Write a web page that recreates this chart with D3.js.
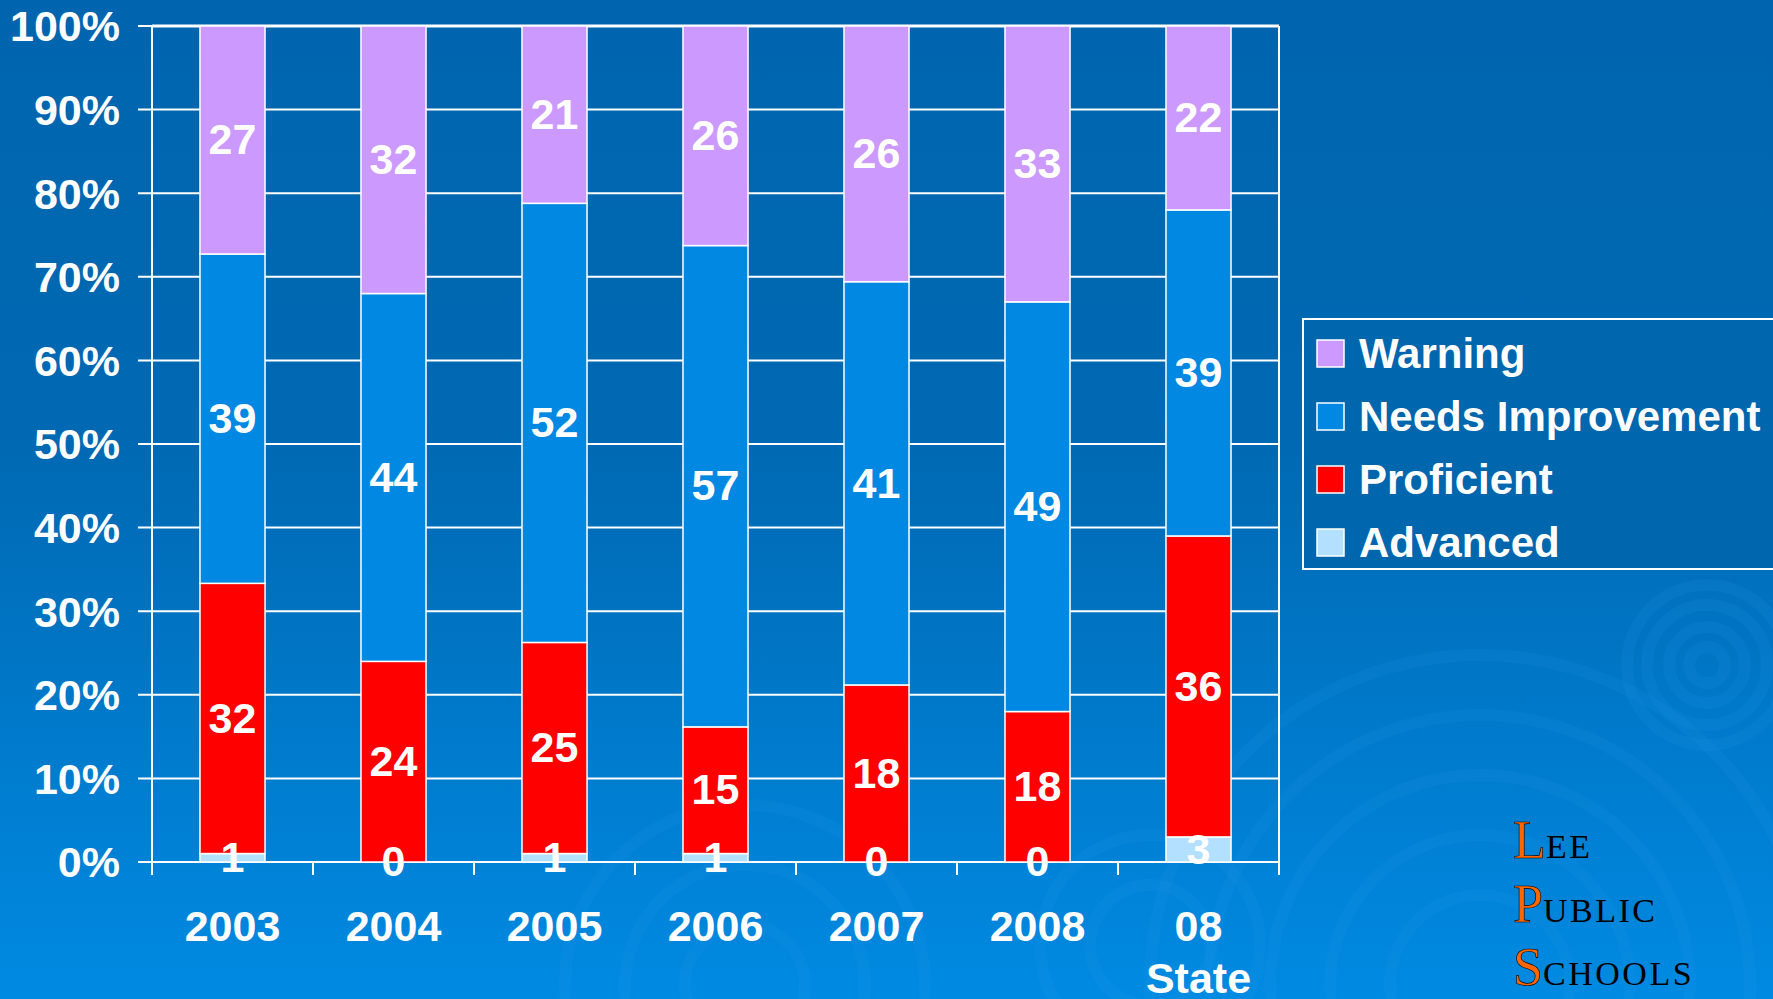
<!DOCTYPE html>
<html>
<head>
<meta charset="utf-8">
<script src="https://cdn.jsdelivr.net/npm/d3@7"></script>
<style>
  html, body { margin: 0; padding: 0; background: #0066af; }
  svg { display: block; }
</style>
</head>
<body>
<svg id="chart" width="1773" height="999"></svg>
<script>
var categories = ["2003", "2004", "2005", "2006", "2007", "2008", "08 State"];
var advanced = [1, 0, 1, 1, 0, 0, 3];
var proficient = [32, 24, 25, 15, 18, 18, 36];
var needsImprovement = [39, 44, 52, 57, 41, 49, 39];
var warning = [27, 32, 21, 26, 26, 33, 22];
var seriesNames = ["Advanced", "Proficient", "Needs Improvement", "Warning"];
var seriesColors = ["#b3e0ff", "#ff0000", "#0088e2", "#cc99ff"];
var yTicks = [0, 0.1, 0.2, 0.3, 0.4, 0.5, 0.6, 0.7, 0.8, 0.9, 1];

function getRows() {
	var list = [];
	for (var i = 0; i < categories.length; i++) {
		list.push({
			cat: categories[i],
			"Advanced": advanced[i],
			"Proficient": proficient[i],
			"Needs Improvement": needsImprovement[i],
			"Warning": warning[i]
		});
	}
	return list;
}

var svg = d3.select("#chart");
var font = "'Liberation Sans', Arial, sans-serif";

// background gradient
var defs = svg.append("defs");
var grad = defs.append("linearGradient")
	.attr("id", "bg").attr("x1", 0).attr("y1", 0).attr("x2", 0).attr("y2", 1);
grad.append("stop").attr("offset", "0").attr("stop-color", "#0065ae");
grad.append("stop").attr("offset", "0.45").attr("stop-color", "#0069b3");
grad.append("stop").attr("offset", "1").attr("stop-color", "#008ae2");
svg.append("rect").attr("width", 1773).attr("height", 999).attr("fill", "url(#bg)");

// faint ripples
var ripples = [[1480, 985, [90, 150, 210, 270, 330]], [1707, 665, [18, 38, 60, 80]],
	[745, 985, [60, 120, 180]], [1150, 945, [60, 110]]];
ripples.forEach(function(r) {
	r[2].forEach(function(rad) {
		svg.append("circle").attr("cx", r[0]).attr("cy", r[1]).attr("r", rad)
			.attr("fill", "none").attr("stroke", "#2aa0f0").attr("stroke-opacity", 0.12)
			.attr("stroke-width", 12);
	});
});

var plotLeft = 152, plotRight = 1279, plotTop = 26, plotBottom = 862;

var x = d3.scaleBand()
	.domain(categories)
	.range([plotLeft, plotRight])
	.paddingInner(0.596)
	.paddingOuter(0.298);
var y = d3.scaleLinear()
	.domain([0, 1])
	.range([plotBottom, plotTop]);

// gridlines
svg.append("g").selectAll("line").data(yTicks).join("line")
	.attr("x1", plotLeft - 14).attr("x2", plotRight)
	.attr("y1", function(d) { return y(d); })
	.attr("y2", function(d) { return y(d); })
	.attr("stroke", "#fff").attr("stroke-width", 2);
svg.append("line").attr("x1", plotLeft).attr("x2", plotRight).attr("y1", plotTop).attr("y2", plotTop)
	.attr("stroke", "#fff").attr("stroke-width", 3);

// x boundary ticks
var step = x.step();
var bounds = d3.range(categories.length + 1).map(function(i) { return plotLeft + i * step; });
svg.append("g").selectAll("line").data(bounds).join("line")
	.attr("x1", function(d) { return d; }).attr("x2", function(d) { return d; })
	.attr("y1", function(d, i) { return (i === 0 || i === categories.length) ? plotTop : plotBottom; })
	.attr("y2", plotBottom + 13)
	.attr("stroke", "#fff").attr("stroke-width", 2);

// y labels
svg.append("g").selectAll("text").data(yTicks).join("text")
	.attr("x", 120)
	.attr("y", function(d) { return y(d); })
	.attr("dy", "0.36em")
	.attr("text-anchor", "end")
	.attr("fill", "#fff")
	.attr("font-family", font).attr("font-weight", "bold").attr("font-size", 43)
	.text(function(d) { return Math.round(d * 100) + "%"; });

// stacked bars
var stack = d3.stack().keys(seriesNames).offset(d3.stackOffsetExpand);
var layers = stack(getRows());

var groups = svg.append("g").selectAll("g").data(layers).join("g")
	.attr("fill", function(d, i) { return seriesColors[i]; });
groups.selectAll("rect").data(function(d) { return d; }).join("rect")
	.attr("x", function(d) { return x(d.data.cat); })
	.attr("width", x.bandwidth())
	.attr("y", function(d) { return y(d[1]); })
	.attr("height", function(d) { return y(d[0]) - y(d[1]); })
	.attr("stroke", "#fff").attr("stroke-width", 1.5);

// value labels
layers.forEach(function(layer) {
	svg.append("g").selectAll("text").data(layer).join("text")
		.attr("x", function(d) { return x(d.data.cat) + x.bandwidth() / 2; })
		.attr("y", function(d) { return (y(d[0]) + y(d[1])) / 2; })
		.attr("dy", "0.33em")
		.attr("text-anchor", "middle")
		.attr("fill", "#fff")
		.attr("font-family", font).attr("font-weight", "bold").attr("font-size", 43)
		.text(function(d) { return d.data[layer.key]; });
});

// x labels
var xl = svg.append("g").selectAll("text").data(categories).join("text")
	.attr("x", function(d) { return x(d) + x.bandwidth() / 2; })
	.attr("y", 941)
	.attr("text-anchor", "middle")
	.attr("fill", "#fff")
	.attr("font-family", font).attr("font-weight", "bold").attr("font-size", 43);
xl.each(function(d) {
	var parts = d.split(" ");
	var t = d3.select(this);
	parts.forEach(function(p, i) {
		t.append("tspan").attr("x", x(d) + x.bandwidth() / 2)
			.attr("dy", i === 0 ? 0 : 52).text(p);
	});
});

// legend
var legend = svg.append("g");
legend.append("rect").attr("x", 1303).attr("y", 319).attr("width", 480).attr("height", 250)
	.attr("fill", "#0066ae").attr("stroke", "#fff").attr("stroke-width", 2);
var legendOrder = ["Warning", "Needs Improvement", "Proficient", "Advanced"];
legendOrder.forEach(function(name, i) {
	var yy = 340 + i * 63;
	legend.append("rect").attr("x", 1317).attr("y", yy).attr("width", 27).attr("height", 27)
		.attr("fill", seriesColors[seriesNames.indexOf(name)])
		.attr("stroke", "#fff").attr("stroke-width", 1.5);
	legend.append("text").attr("x", 1359).attr("y", yy + 28)
		.attr("fill", "#fff")
		.attr("font-family", font).attr("font-weight", "bold").attr("font-size", 42)
		.text(name);
});

// logo
var logo = [["L", "EE", 858], ["P", "UBLIC", 922], ["S", "CHOOLS", 985]];
logo.forEach(function(l) {
	var t = svg.append("text").attr("x", 1513).attr("y", l[2])
		.attr("font-family", "'Liberation Serif', 'Times New Roman', serif");
	t.append("tspan").attr("font-size", 54).attr("fill", "#ff6600")
		.attr("stroke", "#000").attr("stroke-width", 0.6).text(l[0]);
	t.append("tspan").attr("font-size", 34).attr("letter-spacing", 2.5)
		.attr("fill", "#000").text(l[1]);
});
</script>
</body>
</html>
